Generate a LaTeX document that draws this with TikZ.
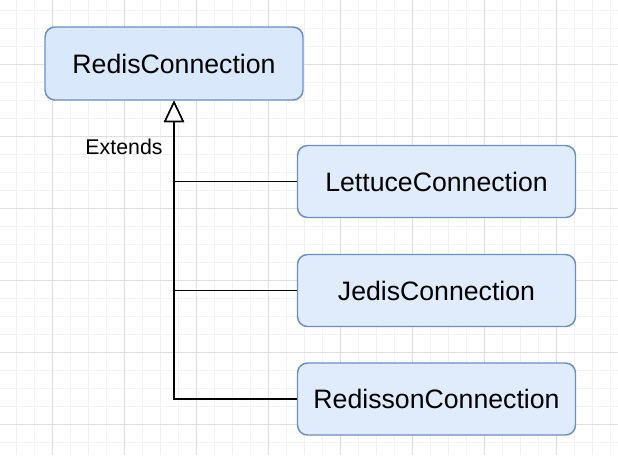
\documentclass[tikz,border=0pt]{standalone}
\usepackage{fontspec}
\setmainfont{Liberation Sans}
\usetikzlibrary{arrows.meta}
\definecolor{clsborder}{HTML}{6C8EBF}
\definecolor{topfill}{HTML}{DAE8FC}
\definecolor{subfill}{HTML}{E0ECFC}

\begin{document}
\begin{tikzpicture}[
  x=0.75pt, y=-0.75pt, line width=1.1pt,
  minorgrid/.style={line width=0.6pt, black!5},
  majorgrid/.style={line width=0.6pt, black!13},
  cls/.style={draw=clsborder, fill=topfill, rounded corners=7.5pt,
    minimum width=193.5pt, minimum height=54.75pt,
    font=\fontsize{20}{24}\selectfont},
  sub/.style={cls, fill=subfill, minimum width=208.5pt, minimum height=54pt},
  extends/.style={-{Triangle[open, fill=white, length=16pt, width=15pt]}},
]
  \useasboundingbox (0,0) rectangle (618,455);

  % 背景网格
  \foreach \x in {16,34,...,610} \draw[minorgrid] (\x,0) -- (\x,455);
  \foreach \y in {10,28,...,450} \draw[minorgrid] (0,\y) -- (618,\y);
  \foreach \x in {52,124,...,600} \draw[majorgrid] (\x,0) -- (\x,455);
  \foreach \y in {64,136,...,450} \draw[majorgrid] (0,\y) -- (618,\y);

  % 父类
  \node[cls] (redis) at (174,63.5) {RedisConnection};

  % 子类
  \node[sub] (lettuce)  at (436.5,181.5) {LettuceConnection};
  \node[sub] (jedis)    at (436.5,290.5) {JedisConnection};
  \node[sub] (redisson) at (436.5,399)   {RedissonConnection};

  % 继承连线
  \draw[extends] (redisson.west) -| (redis.south);
  \draw[extends] (jedis.west) -| (redis.south);
  \draw[extends] (lettuce.west) -| (redis.south);

  \node[font=\fontsize{16}{19}\selectfont] (extlabel) at (124,147) {Extends};
\end{tikzpicture}
\end{document}
